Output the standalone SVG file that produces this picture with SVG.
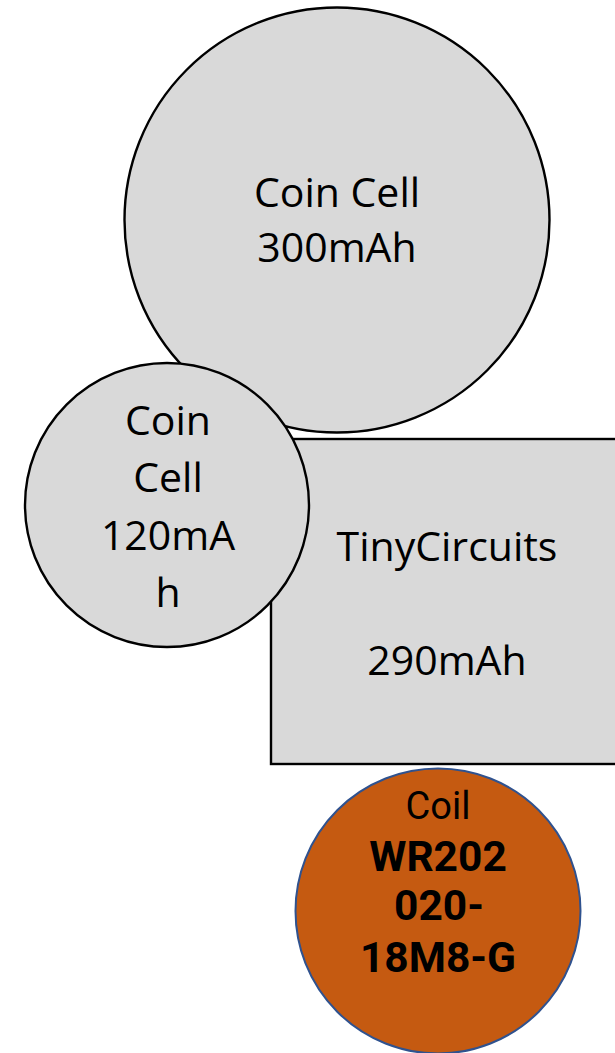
<svg xmlns="http://www.w3.org/2000/svg" width="615" height="1053" viewBox="0 0 615 1053">
<style>
.gray{fill:#D9D9D9;stroke:#000;stroke-width:2.4}
.coil{fill:#C55A11;stroke:#2F528F;stroke-width:2}
.t{font-family:"Open Sans","Liberation Sans",sans-serif;font-size:41px;fill:#000;text-anchor:middle}
.c{font-family:Roboto,"Liberation Sans",sans-serif;fill:#000;text-anchor:middle}
</style>
<rect width="615" height="1053" fill="#fff"/>
<g id="coin300">
<circle class="gray" cx="337" cy="220" r="212.5"/>
<text class="t" x="337" y="207">Coin Cell</text>
<text class="t" x="337" y="262">300mAh</text>
</g>
<g id="tinycircuits">
<rect class="gray" x="271" y="439" width="360" height="325" stroke-width="2.6"/>
<text class="t" x="447" y="561">TinyCircuits</text>
<text class="t" x="447" y="675">290mAh</text>
</g>
<g id="coin120">
<circle class="gray" cx="167" cy="505" r="142"/>
<text class="t" x="168" y="435">Coin</text>
<text class="t" x="168" y="492">Cell</text>
<text class="t" x="168" y="550">120mA</text>
<text class="t" x="168" y="607">h</text>
</g>
<g id="coil">
<circle class="coil" cx="438" cy="911" r="142.5"/>
<text class="c" x="438" y="819" font-size="38">Coil</text>
<text class="c" x="438" y="871" font-size="42.5" font-weight="bold">WR202</text>
<text class="c" x="439" y="920" font-size="42.5" font-weight="bold">020-</text>
<text class="c" x="438" y="972" font-size="42.5" font-weight="bold">18M8-G</text>
</g>
<g id="connectors"/>
</svg>
